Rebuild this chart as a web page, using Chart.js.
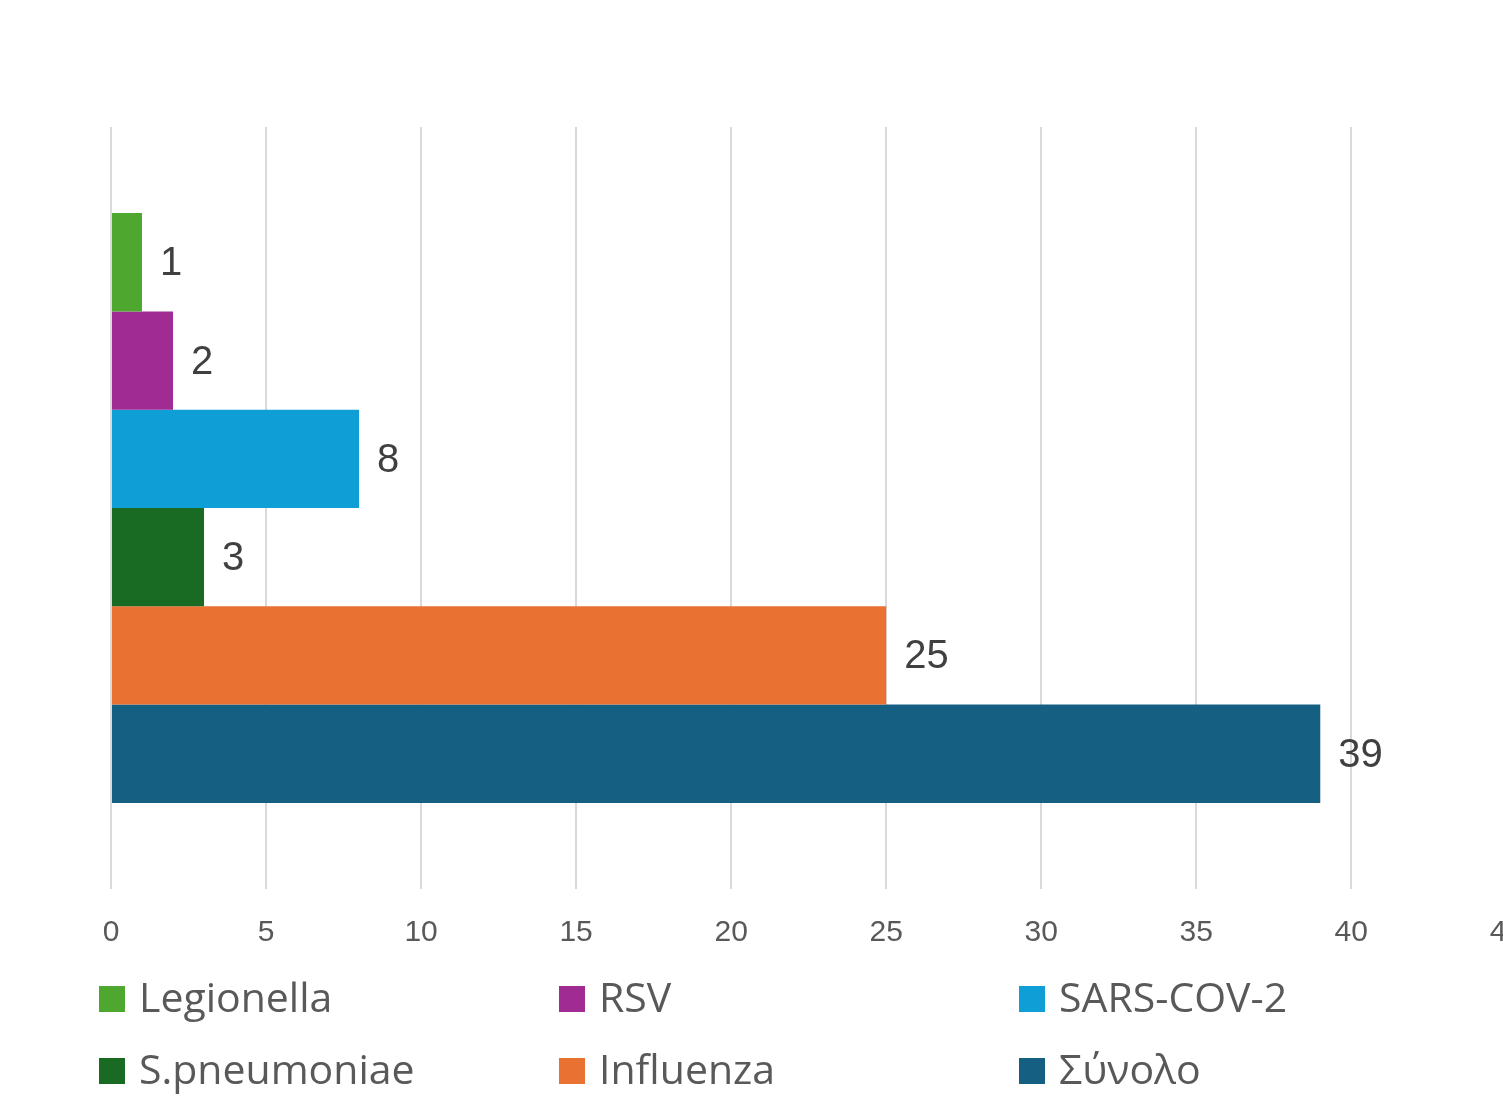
<!DOCTYPE html>
<html>
<head>
<meta charset="utf-8">
<script src="https://cdn.jsdelivr.net/npm/chart.js@4"></script>
<style>
  html, body { margin: 0; padding: 0; background: #fff; overflow: hidden; }
  #wrap { width: 1549px; height: 1099px; position: relative; }
</style>
</head>
<body>
<div id="wrap"><canvas id="myChart"></canvas></div>
<script>
// Δεδομένα
const seriesNames = ['Legionella', 'RSV', 'SARS-COV-2', 'S.pneumoniae', 'Influenza', 'Σύνολο'];
const seriesValues = [1, 2, 8, 3, 25, 39];
const seriesColors = ['#4EA72E', '#A02B93', '#0F9ED5', '#196B24', '#E97132', '#156082'];
const categoryLabels = [''];
const tickValues = [0, 5, 10, 15, 20, 25, 30, 35, 40, 45];

const datasets = seriesNames.map(function (name, i) {
    return {
        label: name,
        data: [seriesValues[i]],
        backgroundColor: seriesColors[i],
        borderWidth: 0,
        categoryPercentage: 0.774,
        barPercentage: 1
    };
});

// value labels at bar ends
const valueLabels = {
    id: 'valueLabels',
    afterDatasetsDraw(chart) {
        const ctx = chart.ctx;
        ctx.save();
        ctx.font = '40px "Liberation Sans", Arial, sans-serif';
        ctx.fillStyle = '#404040';
        ctx.textAlign = 'left';
        ctx.textBaseline = 'middle';
        chart.data.datasets.forEach(function (ds, i) {
            chart.getDatasetMeta(i).data.forEach(function (bar, j) {
                ctx.fillText(String(ds.data[j]), bar.x + 18, bar.y + 2);
            });
        });
        ctx.restore();
    }
};

// legend in 3 fixed columns
const gridLegend = {
    id: 'gridLegend',
    afterDraw(chart) {
        const ctx = chart.ctx;
        ctx.save();
        ctx.font = '41px "Open Sans", sans-serif';
        ctx.textBaseline = 'middle';
        ctx.textAlign = 'left';
        chart.data.datasets.forEach(function (ds, i) {
            const col = i % 3;
            const row = Math.floor(i / 3);
            const x = 99 + col * 460;
            const y = 999 + row * 72;
            ctx.fillStyle = ds.backgroundColor;
            ctx.fillRect(x, y - 13, 26, 26);
            ctx.fillStyle = '#595959';
            ctx.fillText(ds.label, x + 40, y + 1);
        });
        ctx.restore();
    }
};

const config = {
    type: 'bar',
    data: { labels: categoryLabels, datasets: datasets },
    options: {
        indexAxis: 'y',
        responsive: true,
        maintainAspectRatio: false,
        animation: false,
        layout: { padding: { left: 111, right: 26, top: 127, bottom: 122 } },
        plugins: {
            legend: { display: false },
            tooltip: { enabled: false }
        },
        scales: {
            x: {
                min: 0,
                max: 45,
                afterBuildTicks: function (axis) {
                    axis.ticks = tickValues.map(function (v) { return { value: v }; });
                },
                grid: { color: '#d9d9d9', lineWidth: 2, drawTicks: false },
                border: { display: false },
                ticks: {
                    color: '#595959',
                    padding: 26,
                    maxRotation: 0,
                    font: { family: '"Liberation Sans", Arial, sans-serif', size: 30 }
                }
            },
            y: {
                display: false,
                grid: { display: false }
            }
        }
    },
    plugins: [valueLabels, gridLegend]
};

let myChart = new Chart(document.getElementById('myChart'), config);
</script>
</body>
</html>
